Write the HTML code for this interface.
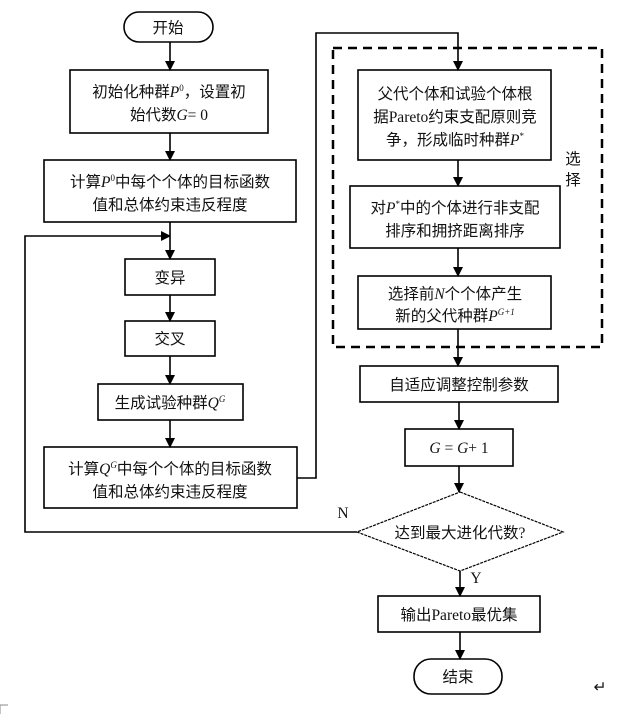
<!DOCTYPE html>
<html><head><meta charset="utf-8"><style>
html,body{margin:0;padding:0;background:#fff;}
svg{display:block;}
text{font-family:"Liberation Serif","Noto Sans CJK SC",sans-serif;font-size:15.5px;fill:#111;}
.i{font-style:italic;}
</style></head><body>
<svg width="639" height="714" viewBox="0 0 639 714" xmlns="http://www.w3.org/2000/svg">
<defs><marker id="a" markerWidth="10" markerHeight="10" refX="9" refY="5" orient="auto" markerUnits="userSpaceOnUse"><path d="M0,0 L10,5 L0,10 z" fill="#000"/></marker></defs>
<g fill="none" stroke="#000" stroke-width="1.6">
<rect x="124" y="12" width="89" height="30" rx="15"/>
<rect x="70" y="70" width="198" height="63"/>
<rect x="44" y="160" width="252" height="62"/>
<rect x="125" y="259" width="90" height="36"/>
<rect x="125" y="321" width="90" height="35"/>
<rect x="98" y="384" width="145" height="36"/>
<rect x="44" y="447" width="253" height="61"/>
<rect x="333" y="48" width="269" height="299" stroke-width="2.5" stroke-dasharray="9,6"/>
<rect x="358" y="70" width="193" height="90"/>
<rect x="350" y="186" width="210" height="62"/>
<rect x="358" y="276" width="193" height="53"/>
<rect x="360" y="366" width="198" height="36"/>
<rect x="405" y="429" width="108" height="37"/>
<polygon points="460,492 563,532 460,571 357,532" stroke-width="1.2" stroke-dasharray="3,1"/>
<rect x="378" y="596" width="162" height="36"/>
<rect x="414" y="659" width="88" height="35" rx="17"/>
<path d="M170,42 V70" marker-end="url(#a)"/>
<path d="M170,133 V160" marker-end="url(#a)"/>
<path d="M170,222 V259" marker-end="url(#a)"/>
<path d="M170,295 V321" marker-end="url(#a)"/>
<path d="M170,356 V384" marker-end="url(#a)"/>
<path d="M170,420 V447" marker-end="url(#a)"/>
<path d="M297,478 H316 V33 H458 V70" marker-end="url(#a)"/>
<path d="M458,160 V186" marker-end="url(#a)"/>
<path d="M458,248 V276" marker-end="url(#a)"/>
<path d="M458,329 V366" marker-end="url(#a)"/>
<path d="M459,402 V429" marker-end="url(#a)"/>
<path d="M459,466 V492" marker-end="url(#a)"/>
<path d="M460,571 V596" marker-end="url(#a)"/>
<path d="M460,632 V659" marker-end="url(#a)"/>
<path d="M357,532 H25 V236 H170" marker-end="url(#a)"/>
<path d="M0,705 H8 M0,705 V714" stroke="#888" stroke-width="1"/>
</g>
<g text-anchor="middle">
<text x="168" y="33">开始</text>
<text x="169" y="97">初始化种群<tspan class="i">P</tspan><tspan font-size="9" dy="-6">0</tspan><tspan dy="6">，设置初</tspan></text>
<text x="169" y="120">始代数<tspan class="i">G</tspan>= 0</text>
<text x="170" y="187">计算<tspan class="i">P</tspan><tspan font-size="9" dy="-6">0</tspan><tspan dy="6">中每个个体的目标函数</tspan></text>
<text x="170" y="210">值和总体约束违反程度</text>
<text x="170" y="283">变异</text>
<text x="170" y="344">交叉</text>
<text x="170" y="408">生成试验种群<tspan class="i">Q</tspan><tspan font-size="9" dy="-6" class="i">G</tspan></text>
<text x="170" y="474">计算<tspan class="i">Q</tspan><tspan font-size="9" dy="-6" class="i">G</tspan><tspan dy="6">中每个个体的目标函数</tspan></text>
<text x="170" y="497">值和总体约束违反程度</text>
<text x="455" y="99">父代个体和试验个体根</text>
<text x="455" y="122">据Pareto约束支配原则竞</text>
<text x="455" y="145">争，形成临时种群<tspan class="i">P</tspan><tspan font-size="9" dy="-6">*</tspan></text>
<text x="455" y="213">对<tspan class="i">P</tspan><tspan font-size="9" dy="-6">*</tspan><tspan dy="6">中的个体进行非支配</tspan></text>
<text x="455" y="236">排序和拥挤距离排序</text>
<text x="455" y="299">选择前<tspan class="i">N</tspan>个个体产生</text>
<text x="455" y="321">新的父代种群<tspan class="i">P</tspan><tspan font-size="9" dy="-6" class="i">G+1</tspan></text>
<text x="459" y="390">自适应调整控制参数</text>
<text x="459" y="453"><tspan class="i">G</tspan> = <tspan class="i">G</tspan>+ 1</text>
<text x="460" y="538">达到最大进化代数?</text>
<text x="459" y="620">输出Pareto最优集</text>
<text x="458" y="682">结束</text>
<text x="573" y="164">选</text>
<text x="573" y="185">择</text>
<text x="343" y="518" font-size="14">N</text>
<text x="476" y="583" font-size="14">Y</text>
<text x="600" y="692" font-size="11" fill="#999">↵</text>
</g>
</svg>
</body></html>
